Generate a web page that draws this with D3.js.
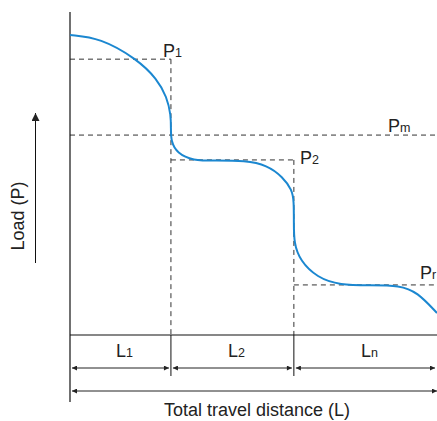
<!DOCTYPE html>
<html>
<head>
<meta charset="utf-8">
<script src="https://cdn.jsdelivr.net/npm/d3@7"></script>
<style>
    body { margin: 0; background: #fff; }
    text { font-family: "Liberation Sans", Arial, sans-serif; fill: #222; }
</style>
</head>
<body>
<svg id="chart"></svg>
<script>
// curve of load vs. travel distance (distance 0-100, load 0-100)
let curveDist = [0, 0, 8.2, 18.3, 23.7, 26.4, 27.5, 27.5, 27.5, 29.2, 33.5, 39.5, 47.7, 53.7, 58.0, 60.5, 61.0, 61.0, 61.0, 62.7, 67.3, 73.6, 81.7, 89.9, 94.6, 100, 100];
let curveLoad = [92.9, 92.9, 92.0, 85.4, 79.3, 73.7, 68.0, 64.0, 60.0, 56.2, 54.0, 54.0, 54.0, 52.6, 48.9, 44.9, 41.5, 35.0, 28.5, 23.0, 17.8, 15.4, 15.4, 15.4, 13.3, 6.8, 6.8];

// load levels and segment boundaries
let levelNames = ['P1', 'Pm', 'P2', 'Pr'];
let levelValues = [85.4, 61.9, 54.2, 15.5];
let segmentEnds = [27.5, 61.0, 100];
let segmentLabels = [['L', '1'], ['L', '2'], ['L', 'n']];

let width = 437;
let height = 421;
let svg = d3.select('#chart')
    .attr('width', width)
    .attr('height', height);

let xScale = d3.scaleLinear().domain([0, 100]).range([70, 437]);
let yScale = d3.scaleLinear().domain([0, 100]).range([335, 12]);

let defs = svg.append('defs');
function addArrow(id, orient, w, h) {
    defs.append('marker')
        .attr('id', id)
        .attr('viewBox', '0 0 10 10')
        .attr('refX', 10).attr('refY', 5)
        .attr('markerWidth', w).attr('markerHeight', h)
        .attr('markerUnits', 'userSpaceOnUse')
        .attr('orient', orient)
        .append('path')
        .attr('d', 'M0,0 L10,5 L0,10 Z')
        .attr('fill', '#222');
}
addArrow('arrowEnd', 'auto', 7, 5);
addArrow('arrowStart', 'auto-start-reverse', 7, 5);
addArrow('bigArrow', 'auto', 12, 8);

let dashColor = '#333';
let dash = '5,4';

// dashed guides
let b1 = segmentEnds[0], b2 = segmentEnds[1];
let guides = [
    [0, levelValues[0], b1, levelValues[0]],
    [b1, levelValues[0], b1, 0],
    [0, levelValues[1], 100, levelValues[1]],
    [b1, levelValues[2], b2, levelValues[2]],
    [b2, levelValues[2], b2, 0],
    [b2, levelValues[3], 100, levelValues[3]]
];
svg.append('g').selectAll('line')
    .data(guides)
    .join('line')
    .attr('x1', d => xScale(d[0]))
    .attr('y1', d => yScale(d[1]))
    .attr('x2', d => xScale(d[2]))
    .attr('y2', d => yScale(d[3]))
    .attr('stroke', dashColor)
    .attr('stroke-width', 1)
    .attr('stroke-dasharray', dash);

// axes
let axisG = svg.append('g').attr('stroke', '#111').attr('stroke-width', 1.2);
axisG.append('line')
    .attr('x1', xScale(0)).attr('x2', xScale(0))
    .attr('y1', yScale(100)).attr('y2', 402);
axisG.append('line')
    .attr('x1', xScale(0)).attr('x2', xScale(100))
    .attr('y1', yScale(0)).attr('y2', yScale(0));
axisG.selectAll('.divider')
    .data(segmentEnds.slice(0, 2))
    .join('line')
    .attr('class', 'divider')
    .attr('x1', d => xScale(d)).attr('x2', d => xScale(d))
    .attr('y1', yScale(0)).attr('y2', 376)
    .attr('stroke-width', 1);

// load curve (smoothed through the read-off points)
let curveData = curveDist.map((d, i) => [d, curveLoad[i]]);
let line = d3.line()
    .x(d => xScale(d[0]))
    .y(d => yScale(d[1]))
    .curve(d3.curveBasis);
svg.append('path')
    .datum(curveData)
    .attr('d', line)
    .attr('fill', 'none')
    .attr('stroke', '#1b87d0')
    .attr('stroke-width', 2);

// level labels
let labelPos = [
    {x: 163, y: 57},
    {x: 388, y: 132},
    {x: 300, y: 164},
    {x: 420, y: 279}
];
levelNames.forEach((name, i) => {
    let t = svg.append('text')
        .attr('x', labelPos[i].x)
        .attr('y', labelPos[i].y)
        .style('font-size', '18px');
    t.append('tspan').text(name[0]);
    t.append('tspan').text(name.slice(1))
        .style('font-size', '12.5px');
});

// segment arrows
let segStarts = [0].concat(segmentEnds.slice(0, 2));
let arrowG = svg.append('g').attr('stroke', '#222').attr('stroke-width', 1);
segStarts.forEach((s, i) => {
    arrowG.append('line')
        .attr('x1', xScale(s) + 2).attr('x2', xScale(segmentEnds[i]) - 2)
        .attr('y1', 368).attr('y2', 368)
        .attr('marker-start', 'url(#arrowStart)')
        .attr('marker-end', 'url(#arrowEnd)');
    let t = svg.append('text')
        .attr('x', (xScale(s) + xScale(segmentEnds[i])) / 2 + 4)
        .attr('y', 357)
        .attr('text-anchor', 'middle')
        .style('font-size', '18px');
    t.append('tspan').text(segmentLabels[i][0]);
    t.append('tspan').text(segmentLabels[i][1]).style('font-size', '12.5px');
});
arrowG.append('line')
    .attr('x1', xScale(0) + 2).attr('x2', xScale(100))
    .attr('y1', 391).attr('y2', 391)
    .attr('marker-start', 'url(#arrowStart)')
    .attr('marker-end', 'url(#arrowEnd)');

svg.append('text')
    .attr('x', 257)
    .attr('y', 416)
    .attr('text-anchor', 'middle')
    .style('font-size', '18px')
    .text('Total travel distance (L)');

// y label with arrow
svg.append('text')
    .attr('transform', 'translate(24,216) rotate(-90)')
    .attr('text-anchor', 'middle')
    .style('font-size', '18px')
    .text('Load (P)');
svg.append('line')
    .attr('x1', 35.5).attr('x2', 35.5)
    .attr('y1', 263).attr('y2', 113)
    .attr('stroke', '#111')
    .attr('stroke-width', 1)
    .attr('marker-end', 'url(#bigArrow)');
</script>
</body>
</html>
